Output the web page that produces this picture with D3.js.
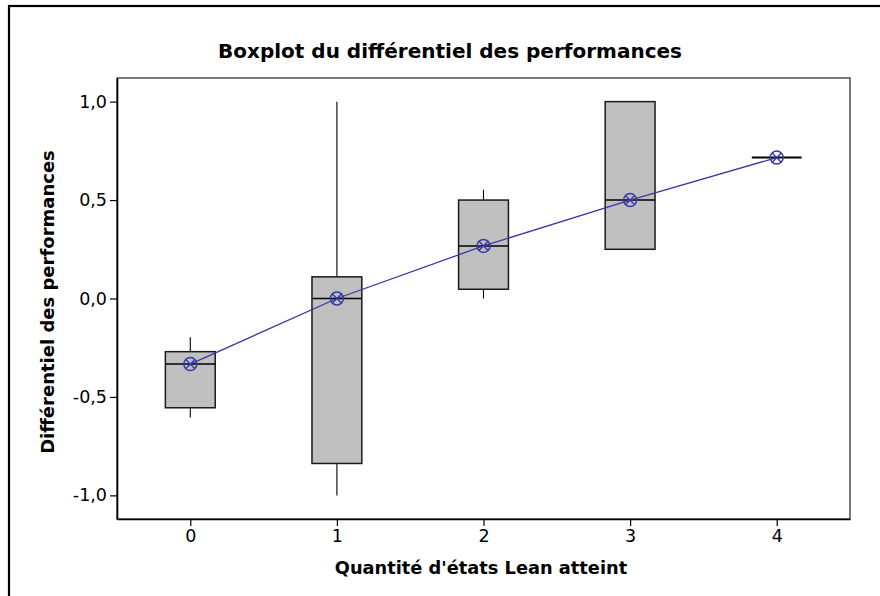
<!DOCTYPE html>
<html>
<head>
<meta charset="utf-8">
<script src="https://cdn.jsdelivr.net/npm/d3@7"></script>
<style>
  html, body { margin: 0; padding: 0; background: #fff; }
  svg { display: block; }
  text { font-family: "DejaVu Sans", Verdana, sans-serif; fill: #000; }
</style>
</head>
<body>
<script>
// Lean state count on the x axis
const categories = [0, 1, 2, 3, 4];
// Box statistics per category
const whiskerLow  = [-0.604, -1.0, 0.0, 0.25, 0.716];
const q1          = [-0.555, -0.838, 0.047, 0.25, 0.716];
const medians     = [-0.333, 0.0, 0.267, 0.5, 0.716];
const q3          = [-0.27, 0.11, 0.5, 1.0, 0.716];
const whiskerHigh = [-0.197, 1.0, 0.552, 1.0, 0.716];
// Means joined by the connect line
const means       = [-0.333, 0.0, 0.267, 0.5, 0.716];
// Axis ticks
const yTicks = [-1.0, -0.5, 0.0, 0.5, 1.0];
const xTicks = [0, 1, 2, 3, 4];

const W = 880, H = 596;
const plot = { left: 117, right: 850, top: 78, bottom: 519 };

const svg = d3.select("body").append("svg")
  .attr("width", W).attr("height", H);

// outer frame
svg.append("rect")
  .attr("x", 9).attr("y", 6).attr("width", 1000).attr("height", 1000)
  .attr("fill", "none").attr("stroke", "#000").attr("stroke-width", 2.2);

const x = d3.scaleLinear().domain([-0.5, 4.5]).range([plot.left, plot.right]);
const y = d3.scaleLinear().domain([-1.12, 1.12]).range([plot.bottom, plot.top]);

const locale = d3.formatLocale({ decimal: ",", thousands: " ", grouping: [3], currency: ["", " €"], minus: "-" });
const fmt = locale.format(".1f");

// plot area border
svg.append("rect")
  .attr("x", plot.left).attr("y", plot.top)
  .attr("width", plot.right - plot.left).attr("height", plot.bottom - plot.top)
  .attr("fill", "none").attr("stroke", "#222").attr("stroke-width", 1.2);

// axes
const yAxis = svg.append("g")
  .attr("transform", `translate(${plot.left},0)`)
  .call(d3.axisLeft(y).tickValues(yTicks).tickFormat(fmt).tickSize(7).tickSizeOuter(0).tickPadding(3));
const xAxis = svg.append("g")
  .attr("transform", `translate(0,${plot.bottom})`)
  .call(d3.axisBottom(x).tickValues(xTicks).tickFormat(d3.format("d")).tickSize(7).tickSizeOuter(0).tickPadding(4));
[yAxis, xAxis].forEach(g => {
  g.select(".domain").attr("stroke", "#000").attr("stroke-width", 1.6);
  g.selectAll(".tick line").attr("stroke", "#000").attr("stroke-width", 1.2);
  g.selectAll(".tick text").attr("font-size", 17.5).attr("font-family", "DejaVu Sans, sans-serif").attr("fill", "#000");
});

const boxW = 0.34;
const boxes = categories.map((c, i) => ({
  c, lo: whiskerLow[i], q1: q1[i], med: medians[i], q3: q3[i], hi: whiskerHigh[i]
}));

const bg = svg.append("g");
// whiskers
bg.selectAll("line.wlo").data(boxes).join("line")
  .attr("x1", d => x(d.c)).attr("x2", d => x(d.c))
  .attr("y1", d => y(d.q1)).attr("y2", d => y(d.lo))
  .attr("stroke", "#000").attr("stroke-width", 1.1);
bg.selectAll("line.whi").data(boxes).join("line")
  .attr("x1", d => x(d.c)).attr("x2", d => x(d.c))
  .attr("y1", d => y(d.q3)).attr("y2", d => y(d.hi))
  .attr("stroke", "#000").attr("stroke-width", 1.1);
// boxes
bg.selectAll("rect.box").data(boxes).join("rect")
  .attr("x", d => x(d.c - boxW / 2)).attr("width", d => x(d.c + boxW / 2) - x(d.c - boxW / 2))
  .attr("y", d => y(d.q3)).attr("height", d => Math.max(0, y(d.q1) - y(d.q3)))
  .attr("fill", "#c0c0c0").attr("stroke", "#1a1a1a").attr("stroke-width", 1.5);
// medians
bg.selectAll("line.med").data(boxes).join("line")
  .attr("x1", d => x(d.c - boxW / 2)).attr("x2", d => x(d.c + boxW / 2))
  .attr("y1", d => y(d.med)).attr("y2", d => y(d.med))
  .attr("stroke", "#000").attr("stroke-width", d => d.q3 - d.q1 === 0 ? 2 : 1.4);

// mean connect line
const blue = "#3838a6";
svg.append("path")
  .datum(categories.map((c, i) => [c, means[i]]))
  .attr("d", d3.line().x(d => x(d[0])).y(d => y(d[1])))
  .attr("fill", "none").attr("stroke", blue).attr("stroke-width", 1.3);

// mean markers (circled cross)
const r = 6.5, k = r * Math.SQRT1_2;
const mk = svg.selectAll("g.mean").data(categories.map((c, i) => [c, means[i]])).join("g")
  .attr("transform", d => `translate(${x(d[0])},${y(d[1])})`);
mk.append("circle").attr("r", r).attr("fill", "none").attr("stroke", blue).attr("stroke-width", 1.5);
mk.append("path").attr("d", `M${-k},${-k}L${k},${k}M${-k},${k}L${k},${-k}`)
  .attr("stroke", blue).attr("stroke-width", 1.4);

// titles
svg.append("text").attr("x", 450).attr("y", 58).attr("text-anchor", "middle")
  .attr("font-size", 20).attr("font-weight", "bold")
  .text("Boxplot du différentiel des performances");
svg.append("text").attr("x", 481).attr("y", 574).attr("text-anchor", "middle")
  .attr("font-size", 17.8).attr("font-weight", "bold")
  .text("Quantité d'états Lean atteint");
svg.append("text").attr("transform", "translate(54,302) rotate(-90)").attr("text-anchor", "middle")
  .attr("font-size", 18).attr("font-weight", "bold")
  .text("Différentiel des performances");
</script>
</body>
</html>
